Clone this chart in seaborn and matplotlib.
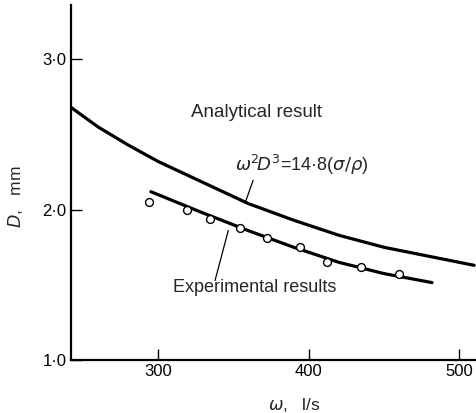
import matplotlib
matplotlib.use("Agg")
import matplotlib.pyplot as plt
import seaborn as sns
import pandas as pd

# Analytical curve  w^2 D^3 = 14.8 (sigma/rho)
omega_analytical = [242, 260, 280, 300, 330, 360, 390, 420, 450, 480, 510]
d_analytical = [2.68, 2.55, 2.43, 2.32, 2.18, 2.04, 1.93, 1.83, 1.75, 1.69, 1.63]

# Fitted line through the experimental data
omega_fit = [295, 328, 360, 390, 420, 450, 482]
d_fit = [2.12, 1.985, 1.86, 1.75, 1.65, 1.575, 1.515]

# Measured drop sizes
omega_exp = [294, 319, 334.5, 354, 372, 394, 412, 435, 460]
d_exp = [2.05, 2.00, 1.935, 1.877, 1.813, 1.755, 1.649, 1.622, 1.575]

x_ticks = [300, 400, 500]
x_tick_labels = ["300", "400", "500"]
y_ticks = [1.0, 2.0, 3.0]
y_tick_labels = ["1·0", "2·0", "3·0"]

sns.set_style("ticks")
plt.rcParams["font.family"] = ["Liberation Sans", "DejaVu Sans"]
plt.rcParams["mathtext.fontset"] = "dejavusans"

fig = plt.figure(figsize=(4.77, 4.13), dpi=100)
ax = fig.add_axes([70.7 / 477, 1 - 360 / 413, (477 - 70.7) / 477, (360 - 5) / 413])

analytical = pd.DataFrame({"omega": omega_analytical, "D": d_analytical})
fit = pd.DataFrame({"omega": omega_fit, "D": d_fit})
exp = pd.DataFrame({"omega": omega_exp, "D": d_exp})

sns.lineplot(data=analytical, x="omega", y="D", color="black", linewidth=2.3,
             ax=ax, sort=False)
sns.lineplot(data=fit, x="omega", y="D", color="black", linewidth=2.3,
             ax=ax, sort=False)
sns.scatterplot(data=exp, x="omega", y="D", marker="o", s=32, color="white",
                edgecolor="black", linewidth=1.0, ax=ax, zorder=5)

ax.set_xlim(241.7, 511.9)
ax.set_ylim(1.0, 3.362)
ax.set_xticks(x_ticks)
ax.set_xticklabels(x_tick_labels)
ax.set_yticks(y_ticks)
ax.set_yticklabels(y_tick_labels)
ax.tick_params(direction="in", length=8, width=1.0, labelsize=12, pad=3,
               colors="black")
for side in ("top", "right"):
    ax.spines[side].set_visible(False)
for side in ("left", "bottom"):
    ax.spines[side].set_linewidth(1.6)
    ax.spines[side].set_color("black")

ax.set_xlabel(r"$\omega$,   l/s", fontsize=12.5)
ax.xaxis.set_label_coords(0.55, -0.1)
ax.set_ylabel(r"$D$,   mm", fontsize=12.5)
ax.yaxis.set_label_coords(-0.112, 0.459)

ax.text(365, 2.65, "Analytical result", fontsize=13.5, ha="center", va="center")
ax.text(351, 2.295, r"$\omega^2\!D^3$=14·8($\sigma/\rho$)", fontsize=13,
        ha="left", va="center")
ax.plot([363, 357.7], [2.195, 2.045], color="black", linewidth=0.9)

ax.text(364, 1.484, "Experimental results", fontsize=13, ha="center",
        va="center")
ax.plot([337.7, 346.5], [1.529, 1.862], color="black", linewidth=0.9)

fig.savefig("out.png", dpi=100, facecolor="white")
